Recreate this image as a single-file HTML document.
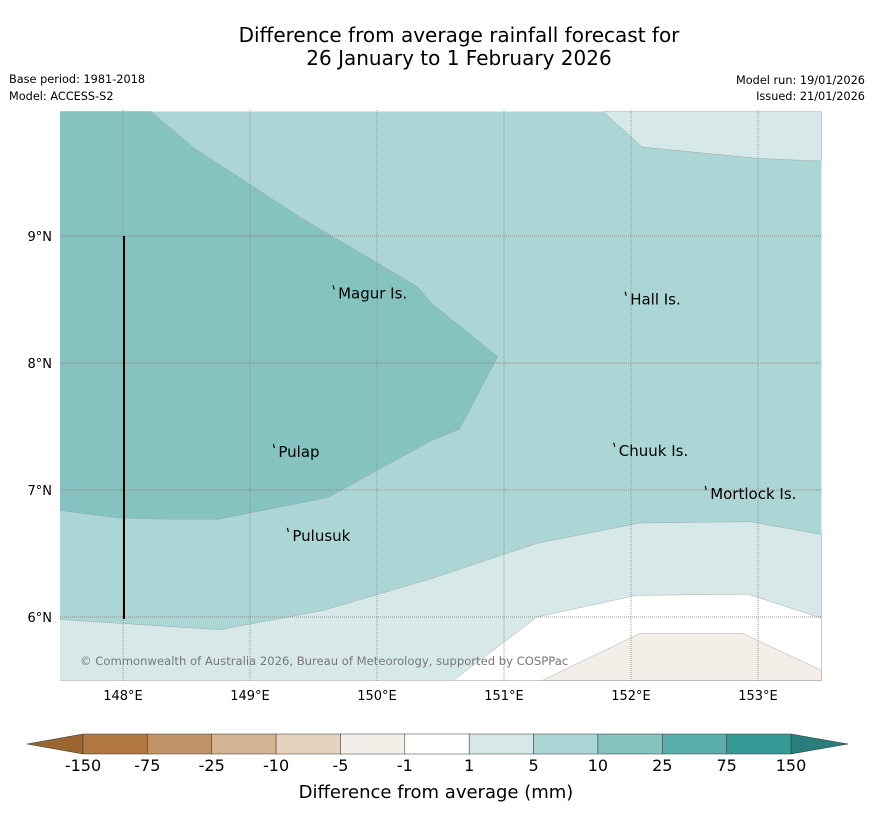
<!DOCTYPE html>
<html><head><meta charset="utf-8"><style>
body{margin:0;background:#fff;font-family:"Liberation Sans","DejaVu Sans",sans-serif;}
</style></head><body>
<svg id="chart" width="873" height="816" xmlns="http://www.w3.org/2000/svg" font-family="DejaVu Sans, Liberation Sans, sans-serif">
<text x="459" y="42" font-size="20" text-anchor="middle">Difference from average rainfall forecast for</text>
<text x="459" y="65" font-size="20" text-anchor="middle">26 January to 1 February 2026</text>
<text x="9" y="83" font-size="11.3">Base period: 1981-2018</text>
<text x="9" y="100" font-size="11.3">Model: ACCESS-S2</text>
<text x="865" y="84" font-size="11.3" text-anchor="end">Model run: 19/01/2026</text>
<text x="865" y="100" font-size="11.3" text-anchor="end">Issued: 21/01/2026</text>
<defs><clipPath id="mapclip"><rect x="60" y="110" width="762" height="571"/></clipPath></defs>
<g id="map" clip-path="url(#mapclip)"></g>
<g id="axes"></g>
<g id="cbar"></g>
<text x="436" y="798" font-size="18" text-anchor="middle">Difference from average (mm)</text>
</svg>
<script>
const lonTicks=[148,149,150,151,152,153];
const latTicks=[6,7,8,9];
const levelLabels=["-150","-75","-25","-10","-5","-1","1","5","10","25","75","150"];
const levelColors=["#b07840","#c19468","#d4b392","#e5d2bf","#f3efe8","#ffffff","#d6e9e8","#acd6d5","#84c3c0","#5aaeab","#349a96"];
const region5to10=[[147.5,9.98],[147.5,5.5],[153.5,5.5],[153.5,9.98]];
const region10to25=[[147.5,9.98],[148.22,9.98],[148.55,9.70],[149.39,9.15],[150.32,8.60],[150.43,8.47],[150.95,8.05],[150.65,7.48],[150.43,7.39],[149.61,6.94],[148.75,6.77],[148.33,6.77],[147.96,6.78],[147.5,6.84]];
const region1to5a=[[151.78,9.98],[152.09,9.70],[153.01,9.61],[153.5,9.59],[153.5,9.98]];
const region1to5b=[[147.5,5.98],[147.98,5.95],[148.76,5.90],[149.57,6.05],[150.42,6.30],[151.26,6.58],[152.07,6.74],[152.94,6.75],[153.5,6.65],[153.5,5.5],[147.5,5.5]];
const regionWhite=[[150.6,5.5],[151.26,6.00],[152.04,6.17],[152.92,6.18],[153.5,5.99],[153.5,5.5]];
const regionBeige=[[151.3,5.5],[152.07,5.87],[152.88,5.87],[153.5,5.58],[153.5,5.5]];
const NS="http://www.w3.org/2000/svg";
function xS(lon){return 123+(lon-148)*127;}
function yS(lat){return 236-(lat-9)*127;}
function mk(tag,attrs,parent){const e=document.createElementNS(NS,tag);for(const k in attrs)e.setAttribute(k,attrs[k]);parent.appendChild(e);return e;}
const map=document.getElementById('map');
function poly(pts,fill,name,stroke){const p=mk('polygon',{points:pts.map(d=>xS(d[0])+','+yS(d[1])).join(' '),fill:fill,stroke:stroke,"stroke-width":0.4},map);

}
poly(region5to10,levelColors[7],'contour-5-to-10','none');
poly(region10to25,levelColors[8],'contour-10-to-25','#999');
poly(region1to5a,levelColors[6],'contour-1-to-5-north','#999');
poly(region1to5b,levelColors[6],'contour-1-to-5-south','#999');
poly(regionWhite,levelColors[5],'contour-neutral','#999');
poly(regionBeige,levelColors[4],'contour-minus5-to-minus1','#999');
const axes=document.getElementById('axes');
lonTicks.forEach(l=>{const x=xS(l);
const g=mk('line',{x1:x,x2:x,y1:110,y2:681,stroke:'#888','stroke-width':0.8,'stroke-dasharray':'1,1'},axes);


const t=mk('text',{x:x,y:700,'font-size':13,'text-anchor':'middle'},axes);t.textContent=l+'°E';

});
latTicks.forEach(l=>{const y=yS(l);
const g=mk('line',{x1:60,x2:822,y1:y,y2:y,stroke:'#777','stroke-width':0.8,'stroke-dasharray':'1,1'},axes);


const t=mk('text',{x:52,y:y+5,'font-size':13,'text-anchor':'end'},axes);t.textContent=l+'°N';

});
const vl=mk('line',{x1:124,x2:124,y1:236,y2:619,stroke:'#000','stroke-width':2},axes);


const places=[["Magur Is.",149.67,8.58],["Hall Is.",151.97,8.53],["Pulap",149.2,7.33],["Chuuk Is.",151.88,7.34],["Mortlock Is.",152.6,7.0],["Pulusuk",149.31,6.67]];
places.forEach(p=>{const t=mk('text',{x:xS(p[1])+3,y:yS(p[2])+9,'font-size':15},axes);t.textContent=p[0];


const d=mk('path',{d:`M${xS(p[1])-2},${yS(p[2])-4} l1,4`,stroke:'#000','stroke-width':1.2,fill:'none'},axes);

});
const cr=mk('text',{x:80,y:665,'font-size':11.6,fill:'#777'},axes);cr.textContent='© Commonwealth of Australia 2026, Bureau of Meteorology, supported by COSPPac';


const cb=document.getElementById('cbar');
const x0=83,x1=791,y0=734,y1=754,w=(x1-x0)/levelColors.length;
const lt=mk('polygon',{points:`${x0},${y0} ${x0},${y1} 27,744`,fill:'#9a6530',stroke:'#333','stroke-width':0.5},cb);


const rt=mk('polygon',{points:`${x1},${y0} ${x1},${y1} 848,744`,fill:'#2a7d7a',stroke:'#333','stroke-width':0.5},cb);


levelColors.forEach((c,i)=>{const r=mk('rect',{x:x0+i*w,y:y0,width:w,height:y1-y0,fill:c,stroke:'#333','stroke-width':0.5},cb);

});
levelLabels.forEach((l,i)=>{const t=mk('text',{x:x0+i*w,y:771,'font-size':16,'text-anchor':'middle'},cb);t.textContent=l;

});
</script>
</body></html>
